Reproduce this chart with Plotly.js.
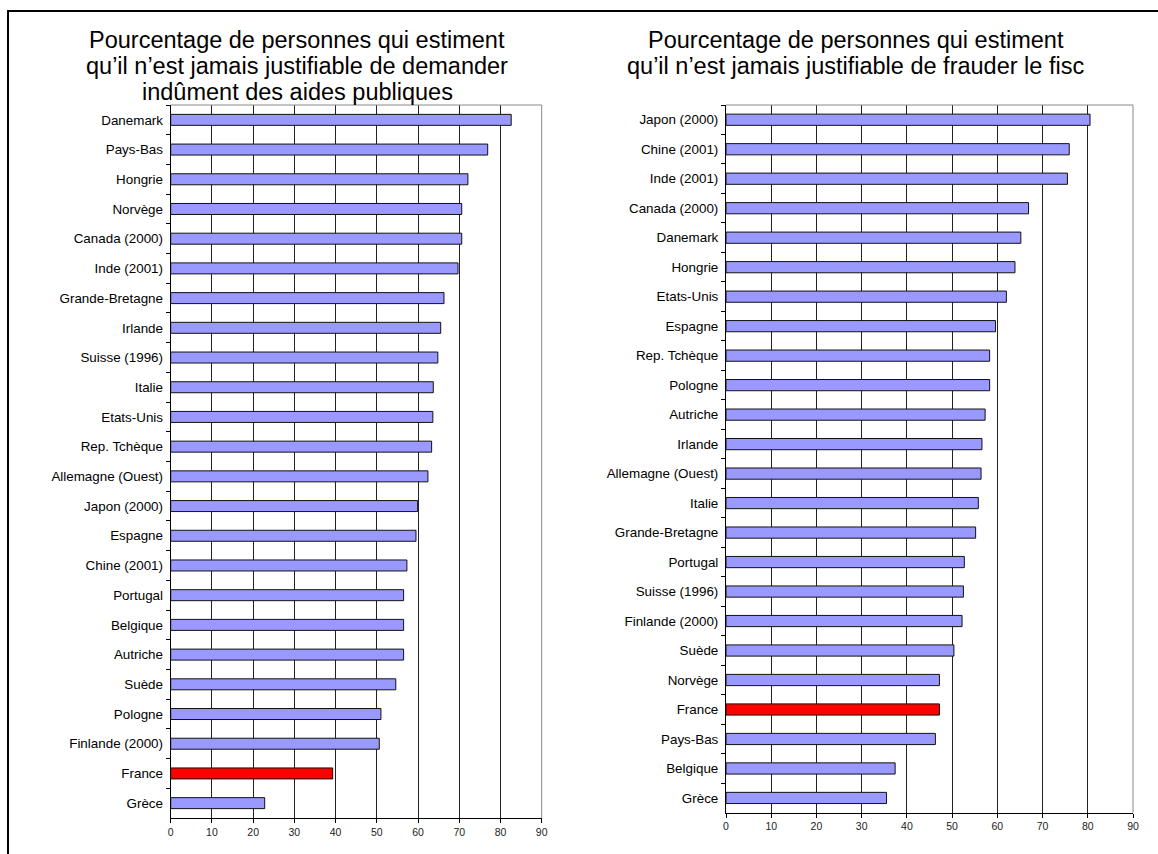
<!DOCTYPE html>
<html>
<head>
<meta charset="utf-8">
<script src="https://cdn.plot.ly/plotly-3.0.1.min.js"></script>
<style>
html,body{margin:0;padding:0;background:#fff;}
#chart{width:1158px;height:854px;}
</style>
</head>
<body>
<div id="chart"></div>
<script>
// Left chart: "demander indûment des aides publiques"
const leftCountries = ["Danemark","Pays-Bas","Hongrie","Norvège","Canada (2000)","Inde (2001)","Grande-Bretagne","Irlande","Suisse (1996)","Italie","Etats-Unis","Rep. Tchèque","Allemagne (Ouest)","Japon (2000)","Espagne","Chine (2001)","Portugal","Belgique","Autriche","Suède","Pologne","Finlande (2000)","France","Grèce"];
const leftValues = [82.6,76.9,72.1,70.6,70.6,69.7,66.3,65.5,64.8,63.7,63.6,63.3,62.4,59.9,59.5,57.3,56.5,56.5,56.5,54.6,51.0,50.6,39.3,22.8];

// Right chart: "frauder le fisc"
const rightCountries = ["Japon (2000)","Chine (2001)","Inde (2001)","Canada (2000)","Danemark","Hongrie","Etats-Unis","Espagne","Rep. Tchèque","Pologne","Autriche","Irlande","Allemagne (Ouest)","Italie","Grande-Bretagne","Portugal","Suisse (1996)","Finlande (2000)","Suède","Norvège","France","Pays-Bas","Belgique","Grèce"];
const rightValues = [80.5,75.9,75.5,66.9,65.2,63.9,62.0,59.6,58.3,58.3,57.3,56.6,56.4,55.8,55.2,52.7,52.5,52.2,50.4,47.2,47.2,46.3,37.4,35.5];

const xTicks = [0,10,20,30,40,50,60,70,80,90];
const highlight = "France";
const titleLeftLines = ["Pourcentage de personnes qui estiment","qu’il n’est jamais justifiable de demander","indûment des aides publiques"];
const titleRightLines = ["Pourcentage de personnes qui estiment","qu’il n’est jamais justifiable de frauder le fisc"];

const W = 1158, H = 854;
const FONT = "Liberation Sans, Arial, Helvetica, sans-serif";
const BLUE = "#9999FF", RED = "#FF0000";

function colors(cats){ return cats.map(c => c === highlight ? RED : BLUE); }

const traces = [
  {type:"bar", orientation:"h", x:leftValues, y:leftCountries, xaxis:"x", yaxis:"y",
   width:0.37, marker:{color:colors(leftCountries), line:{color:"#111", width:1}}, hoverinfo:"x+y"},
  {type:"bar", orientation:"h", x:rightValues, y:rightCountries, xaxis:"x2", yaxis:"y2",
   width:0.38, marker:{color:colors(rightCountries), line:{color:"#111", width:1}}, hoverinfo:"x+y"}
];

function xax(domain, anchor){
  return {domain:domain, anchor:anchor, range:[0,90], tickvals:xTicks, ticktext:xTicks.map(String),
    ticks:"outside", ticklen:4, tickcolor:"#000", showline:true, linecolor:"#000", linewidth:1,
    showgrid:true, gridcolor:"#222", gridwidth:1, zeroline:false, fixedrange:true,
    tickfont:{family:FONT, size:10.5, color:"#222"}};
}
function yax(domain, anchor, cats){
  return {domain:domain, anchor:anchor, type:"category", categoryorder:"array", categoryarray:cats,
    autorange:"reversed", ticks:"outside", ticklen:4, tickcolor:"#000", tickson:"boundaries",
    showline:true, linecolor:"#000", linewidth:1, showgrid:false, zeroline:false, fixedrange:true,
    ticklabelstandoff:4,
    tickfont:{family:FONT, size:13.4, color:"#000"}};
}

const titleY = [40, 65.5, 92];
const annotations = [];
titleLeftLines.forEach((t,i) => annotations.push({xref:"paper", yref:"paper", x:297/W, y:1-titleY[i]/H,
  xanchor:"center", yanchor:"middle", text:t, showarrow:false, font:{family:FONT, size:23.5, color:"#000"}}));
titleRightLines.forEach((t,i) => annotations.push({xref:"paper", yref:"paper", x:855.5/W, y:1-titleY[i]/H,
  xanchor:"center", yanchor:"middle", text:t, showarrow:false, font:{family:FONT, size:23.5, color:"#000"}}));

const layout = {
  width:W, height:H, margin:{l:0,r:0,t:0,b:0}, showlegend:false,
  paper_bgcolor:"#fff", plot_bgcolor:"#fff", bargap:0.6,
  xaxis: xax([170.7/W, 541.7/W], "y"),
  yaxis: yax([1-818/H, 1-105/H], "x", leftCountries),
  xaxis2: xax([726/W, 1133/W], "y2"),
  yaxis2: yax([1-812.7/H, 1-105/H], "x2", rightCountries),
  annotations: annotations,
  shapes:[
    {type:"line", xref:"x domain", yref:"y domain", x0:0, x1:1, y0:1, y1:1, line:{color:"#888", width:1}},
    {type:"line", xref:"x domain", yref:"y domain", x0:1, x1:1, y0:0, y1:1, line:{color:"#888", width:1}},
    {type:"line", xref:"x2 domain", yref:"y2 domain", x0:0, x1:1, y0:1, y1:1, line:{color:"#888", width:1}},
    {type:"line", xref:"x2 domain", yref:"y2 domain", x0:1, x1:1, y0:0, y1:1, line:{color:"#888", width:1}},
    {type:"line", xref:"paper", yref:"paper", x0:7/W, x1:1, y0:1-11/H, y1:1-11/H, line:{color:"#000", width:2}},
    {type:"line", xref:"paper", yref:"paper", x0:8/W, x1:8/W, y0:0, y1:1-10/H, line:{color:"#000", width:2}}
  ]
};

Plotly.newPlot("chart", traces, layout, {displayModeBar:false, staticPlot:true});
</script>
</body>
</html>
